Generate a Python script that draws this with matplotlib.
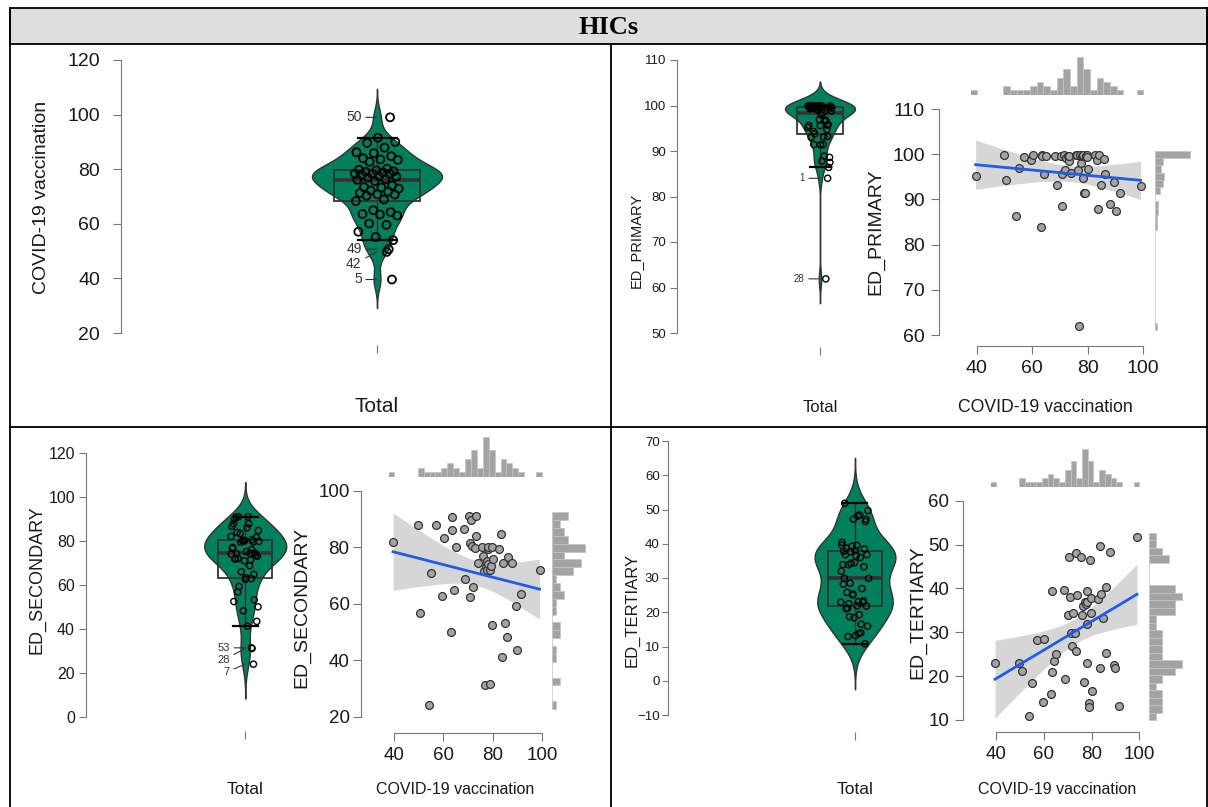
import numpy as np
import matplotlib.pyplot as plt
from matplotlib.lines import Line2D
from matplotlib.patches import Rectangle

W, H = 1208, 807

# one entry per country, ordered by vaccination coverage
vaccination = [39.6, 49.7, 50.7, 54.0, 55.2, 57.1, 59.6, 60.1, 63.0, 63.4,
               63.6, 64.3, 65.0, 68.3, 68.9, 70.3, 70.7, 70.8, 71.3, 71.8,
               72.2, 72.9, 73.3, 73.4, 74.0, 75.7, 76.1, 76.4, 76.9, 77.3,
               77.5, 77.9, 78.3, 78.3, 78.3, 78.8, 79.1, 79.2, 79.6, 79.8,
               80.2, 82.7, 83.4, 83.6, 84.0, 84.8, 85.9, 86.2, 87.9, 89.6,
               90.0, 91.5, 99.0]
ed_primary = [95.2, 99.8, 94.3, 86.4, 96.9, 99.4, 98.8, 99.9, 84.0, 99.9,
              99.6, 95.7, 99.7, 99.7, 93.1, 99.5, 88.6, 95.6, 99.8, 96.6,
              99.2, 99.5, 98.4, 99.5, 95.8, 99.9, 99.9, 96.6, 61.9, 99.9,
              98.0, 99.7, 94.7, 99.7, 99.9, 91.4, 91.4, 99.5, 99.9, 99.3,
              96.8, 99.9, 98.8, 87.8, 99.9, 93.2, 98.9, 95.6, 88.9, 93.8,
              87.5, 91.4, 93.0]
ed_secondary = [82.0, 87.8, 56.8, 24.1, 71.0, 87.8, 62.9, 83.4, 50.1, 86.0,
                90.8, 64.8, 80.2, 86.6, 68.8, 91.0, 81.6, 62.5, 89.8, 80.5,
                66.0, 79.8, 91.0, 83.8, 74.5, 79.9, 77.0, 71.4, 31.2, 73.0,
                75.2, 71.8, 79.5, 80.2, 74.0, 31.5, 72.0, 73.5, 80.2, 52.5,
                76.0, 79.4, 84.7, 41.3, 74.3, 53.3, 48.3, 76.6, 74.4, 59.3,
                43.5, 63.3, 71.8]
ed_tertiary = [22.9, 23.1, 21.2, 10.8, 18.4, 28.2, 14.0, 28.5, 15.9, 39.5,
               21.0, 23.4, 25.0, 39.6, 19.3, 33.9, 47.1, 38.0, 29.9, 26.9,
               34.3, 29.9, 48.1, 25.8, 38.5, 47.2, 33.9, 36.0, 18.7, 36.8,
               36.5, 36.8, 22.9, 39.3, 32.0, 13.8, 12.9, 46.5, 34.5, 37.8,
               16.5, 37.7, 49.7, 21.9, 38.7, 33.3, 25.3, 40.4, 48.4, 22.5,
               21.8, 13.2, 51.8]

# outlier ids, in ascending order of value
vax_outlier_ids = ["5", "42", "49", "50"]
primary_outlier_ids = ["28", "1"]
secondary_outlier_ids = ["7", "28", "53"]
tertiary_outlier_ids = []

vax_bins = np.arange(37.6, 100.01, 2.4)

SANS = ['Liberation Sans', 'DejaVu Sans']
NARROW = ['Liberation Sans Narrow', 'Liberation Sans', 'DejaVu Sans']
plt.rcParams['font.family'] = SANS
GREEN = '#00805c'
INK = '#1a1a1a'
AXC = '#777777'

fig = plt.figure(figsize=(W / 100, H / 100), dpi=100)


def add_ax(l, t, r, b):
    return fig.add_axes([l / W, 1 - b / H, (r - l) / W, (b - t) / H])


def ftext(x, y, s, **kw):
    fig.text(x / W, 1 - y / H, s, ha='center', va='center', color=INK, **kw)


def fline(x1, y1, x2, y2, lw=1.3):
    fig.add_artist(Line2D([x1 / W, x2 / W], [1 - y1 / H, 1 - y2 / H],
                          transform=fig.transFigure, color='black', lw=lw))


def t975(df):
    z = 1.959964
    return (z + (z**3 + z) / (4 * df) + (5 * z**5 + 16 * z**3 + 3 * z) / (96 * df**2)
            + (3 * z**7 + 19 * z**5 + 17 * z**3 - 15 * z) / (384 * df**3))


def tick_fonts(ax, family, size):
    for lab in ax.get_xticklabels() + ax.get_yticklabels():
        lab.set_family(family)
        lab.set_fontsize(size)
        lab.set_color(INK)


def violin(values, ids, box, ylim, yticks, spine_x, tick_y, tfam, tsize,
           msize, mlw, lsize, tlen=5, tpad=3):
    l, t, r, b = box
    ax = add_ax(l, t, r, b)
    v = np.asarray(values, float)
    q1, med, q3 = np.percentile(v, [25, 50, 75])
    iqr = q3 - q1
    bw = 0.9 * min(v.std(ddof=1), iqr / 1.34) * len(v) ** -0.2
    grid = np.linspace(v.min() - 3 * bw, v.max() + 3 * bw, 512)
    dens = np.exp(-0.5 * ((grid[:, None] - v[None, :]) / bw) ** 2).sum(axis=1)
    half = 0.4 * dens / dens.max()
    ax.fill_betweenx(grid, 1 - half, 1 + half, facecolor=GREEN,
                     edgecolor='#333333', lw=1.0, zorder=1)

    lo = v[v >= q1 - 1.5 * iqr].min()
    hi = v[v <= q3 + 1.5 * iqr].max()
    ax.add_patch(Rectangle((0.735, q1), 0.53, q3 - q1, fill=False,
                           ec='#333333', lw=1.3, zorder=2))
    ax.plot([0.735, 1.265], [med, med], color='#333333', lw=2.6, zorder=2,
            solid_capstyle='butt')
    ax.plot([1, 1], [q3, hi], color='#333333', lw=1.0, zorder=2)
    ax.plot([1, 1], [lo, q1], color='#333333', lw=1.0, zorder=2)
    for w in (lo, hi):
        ax.plot([0.88, 1.12], [w, w], color='black', lw=1.6, zorder=2)

    is_out = (v < q1 - 1.5 * iqr) | (v > q3 + 1.5 * iqr)
    jit = ((np.arange(len(v)) * 0.618034) % 1 - 0.5) * 0.28
    jit[is_out] = 0.05 + 0.3 * np.abs(jit[is_out])
    ax.scatter(1 + jit, v, s=msize, facecolors='none', edgecolors='black',
               linewidths=mlw, zorder=3)

    # outlier labels, pushed apart when they collide
    ppu = (b - t) / (ylim[1] - ylim[0])
    out = np.sort(v[is_out])
    gap = lsize * 1.5
    prev = None
    for val, lab in reversed(list(zip(out, ids))):
        pos = val * ppu
        if prev is not None and prev - pos < gap:
            pos = prev - gap
        prev = pos
        ax.annotate(lab, xy=(1, val), xytext=(-11, (pos - val * ppu) * 0.72),
                    textcoords='offset points', ha='right', va='center',
                    fontsize=lsize, color='#333333', family=NARROW,
                    arrowprops=dict(arrowstyle='-', color='#333333', lw=0.8,
                                    shrinkA=1, shrinkB=0), zorder=4)

    ax.set_xlim(0.5, 1.5)
    ax.set_ylim(*ylim)
    ax.patch.set_visible(False)
    for s in ('top', 'right'):
        ax.spines[s].set_visible(False)
    ax.spines['left'].set_position(('outward', (l - spine_x) * 0.72))
    ax.spines['left'].set_bounds(yticks[0], yticks[-1])
    ax.spines['left'].set_color(AXC)
    ax.spines['bottom'].set_position(('outward', (tick_y - b) * 0.72))
    ax.spines['bottom'].set_visible(False)
    ax.set_yticks(yticks)
    ax.set_xticks([1])
    ax.set_xticklabels([''])
    ax.tick_params(axis='y', length=tlen, width=0.8, color=AXC, pad=tpad)
    ax.tick_params(axis='x', length=6, width=0.8, color=AXC)
    tick_fonts(ax, tfam, tsize)
    return ax


def scatter(yvals, g, yticks, tfam, tsize, tpad=4):
    sx = (g['x100'] - g['x40']) / 60
    sy = (g['ylo_px'] - g['yhi_px']) / (g['yhi'] - g['ylo'])
    xlim, ylim = g['xlim'], g['ylim']
    l = g['x40'] + (xlim[0] - 40) * sx
    r = g['x40'] + (xlim[1] - 40) * sx
    b = g['ylo_px'] + (g['ylo'] - ylim[0]) * sy
    t = g['yhi_px'] - (ylim[1] - g['yhi']) * sy
    ax = add_ax(l, t, r, b)

    x = np.asarray(vaccination, float)
    y = np.asarray(yvals, float)
    n = len(x)
    xm, ym = x.mean(), y.mean()
    sxx = ((x - xm) ** 2).sum()
    b1 = ((x - xm) * (y - ym)).sum() / sxx
    b0 = ym - b1 * xm
    s = np.sqrt(((y - b0 - b1 * x) ** 2).sum() / (n - 2))
    xs = np.linspace(x.min(), x.max(), 100)
    fit = b0 + b1 * xs
    se = s * np.sqrt(1 / n + (xs - xm) ** 2 / sxx)
    tq = t975(n - 2)
    ax.fill_between(xs, fit - tq * se, fit + tq * se, color='#999999',
                    alpha=0.4, lw=0, zorder=1)
    ax.scatter(x, y, s=32, facecolor='#a3a3a3', edgecolor='#333333',
               linewidths=0.9, zorder=2)
    ax.plot(xs, fit, color='#1f5ce8', lw=2, zorder=3)

    ax.set_xlim(*xlim)
    ax.set_ylim(*ylim)
    ax.patch.set_visible(False)
    for sp in ('top', 'right'):
        ax.spines[sp].set_visible(False)
    ax.spines['left'].set_position(('outward', (l - g['spine_x']) * 0.72))
    ax.spines['bottom'].set_position(('outward', (g['spine_y'] - b) * 0.72))
    ax.spines['left'].set_bounds(yticks[0], yticks[-1])
    ax.spines['bottom'].set_bounds(40, 100)
    for sp in ('left', 'bottom'):
        ax.spines[sp].set_color(AXC)
    ax.set_xticks([40, 60, 80, 100])
    ax.set_yticks(yticks)
    ax.tick_params(length=6, width=0.8, color=AXC, pad=4)
    ax.tick_params(axis='y', pad=tpad)
    tick_fonts(ax, tfam, tsize)

    axt = add_ax(l, g['hbase'] - g['hh'], r, g['hbase'])
    cnt, _, _ = axt.hist(x, bins=vax_bins, color='#a3a3a3', ec='#c4c4c4', lw=0.5)
    axt.set_xlim(*xlim)
    axt.set_ylim(0, cnt.max() * 1.05)
    axt.axis('off')

    w = (y.max() - y.min()) / 24
    edges = y.min() - w / 2 + w * np.arange(26)
    axr = add_ax(g['rl'], t, g['rl'] + g['rw'], b)
    cnt, _, _ = axr.hist(y, bins=edges, orientation='horizontal',
                         color='#a3a3a3', ec='#c4c4c4', lw=0.5)
    axr.set_ylim(*ylim)
    axr.set_xlim(0, cnt.max() * 1.05)
    axr.axis('off')
    return ax


# frame and header
fig.add_artist(Rectangle((10 / W, 1 - 44 / H), (1207 - 10) / W, 36 / H,
                         transform=fig.transFigure, fc='#dedede', ec='black', lw=1.3))
fline(10, 8, 10, 807)
fline(1207, 8, 1207, 807)
fline(611, 44, 611, 807)
fline(10, 427, 1207, 427)
fig.text(609 / W, 1 - 27 / H, 'HICs', ha='center', va='center', fontsize=19,
         fontweight='bold', family=['Liberation Serif', 'DejaVu Serif'])

# top-left: vaccination
violin(vaccination, vax_outlier_ids, (295.75, 60, 458.25, 333), (20, 120),
       [20, 40, 60, 80, 100, 120], 121, 345, SANS, 14, 33, 1.3, 10,
       tlen=6, tpad=9)
ftext(42, 197, 'COVID-19 vaccination', rotation=90, fontsize=14)
ftext(377, 407, 'Total', fontsize=15)

# top-right: primary
violin(ed_primary, primary_outlier_ids, (776.25, 60, 863.75, 333), (50, 110),
       [50, 60, 70, 80, 90, 100, 110], 677, 347, NARROW, 9.5, 20, 1.0, 7)
ftext(636, 240, 'ED_PRIMARY', rotation=90, fontsize=10.5)
ftext(820, 407, 'Total', fontsize=12, family=NARROW)
scatter(ed_primary, dict(x40=976.7, x100=1143.3, ylo=60, ylo_px=335, yhi=110,
                         yhi_px=109, xlim=(38, 101), ylim=(58, 112), spine_x=939,
                         spine_y=346, hbase=94.7, hh=40, rl=1155, rw=37),
        [60, 70, 80, 90, 100, 110], NARROW, 14)
ftext(876, 232, 'ED_PRIMARY', rotation=90, fontsize=14)
ftext(1045, 407, 'COVID-19 vaccination', fontsize=12.7)

# bottom-left: secondary
violin(ed_secondary, secondary_outlier_ids, (194, 452.7, 296.5, 717.3), (0, 120),
       [0, 20, 40, 60, 80, 100, 120], 86, 731, NARROW, 11.5, 20, 1.0, 8)
ftext(37, 580, 'ED_SECONDARY', rotation=90, fontsize=13)
ftext(245, 790, 'Total', fontsize=12.5, family=NARROW)
scatter(ed_secondary, dict(x40=394, x100=542, ylo=20, ylo_px=716.7, yhi=100,
                           yhi_px=490.7, xlim=(38, 101), ylim=(18, 102),
                           spine_x=360.7, spine_y=733, hbase=476.7, hh=42,
                           rl=552.3, rw=34),
        [20, 40, 60, 80, 100], SANS, 13.5, tpad=2)
ftext(302, 607, 'ED_SECONDARY', rotation=90, fontsize=14)
ftext(455, 790, 'COVID-19 vaccination', fontsize=11.5)

# bottom-right: tertiary
violin(ed_tertiary, tertiary_outlier_ids, (804.5, 441, 905.5, 715), (-10, 70),
       [-10, 0, 10, 20, 30, 40, 50, 60, 70], 668, 732, NARROW, 9.5, 20, 1.0, 8,
       tlen=4, tpad=2)
ftext(632, 610, 'ED_TERTIARY', rotation=90, fontsize=12)
ftext(855, 790, 'Total', fontsize=12.5, family=NARROW)
scatter(ed_tertiary, dict(x40=996, x100=1139.3, ylo=10, ylo_px=720, yhi=60,
                          yhi_px=500.7, xlim=(38, 101), ylim=(8, 62),
                          spine_x=963.3, spine_y=731.7, hbase=486.7, hh=40,
                          rl=1149.3, rw=34),
        [10, 20, 30, 40, 50, 60], NARROW, 13.5)
ftext(918, 612, 'ED_TERTIARY', rotation=90, fontsize=14)
ftext(1057, 790, 'COVID-19 vaccination', fontsize=11.5)

fig.savefig('out.png', dpi=100)
